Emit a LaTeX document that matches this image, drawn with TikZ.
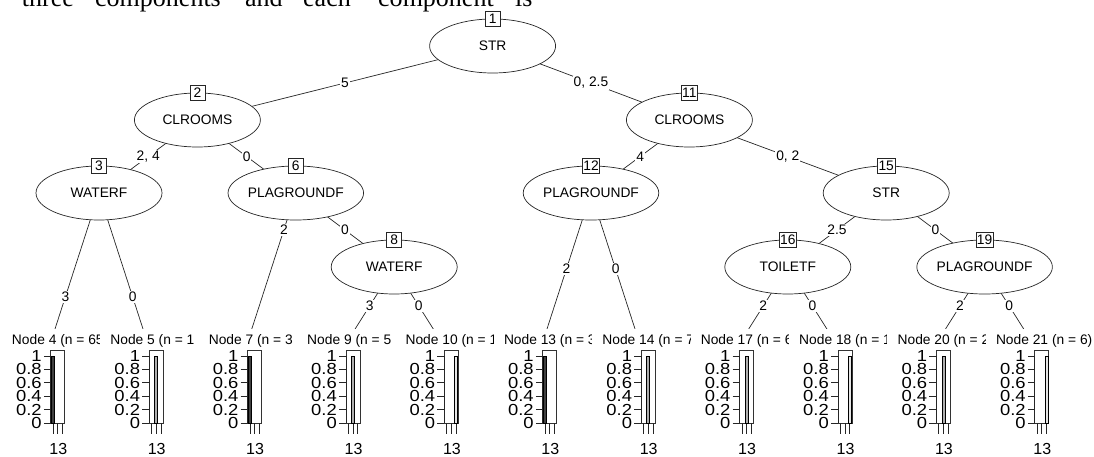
\documentclass[tikz,border=0pt]{standalone}
\usepackage{fontspec}
\setmainfont{Liberation Sans}
\newfontfamily\myserif{Liberation Serif}
\usetikzlibrary{shapes.geometric,backgrounds}
\newcommand\myfs{\fontsize{13.8}{16}\selectfont}
\newcommand\myft{\fontsize{16}{18}\selectfont}
\definecolor{barcA}{RGB}{64,64,64}
\definecolor{barcB}{RGB}{174,174,174}
\definecolor{barcC}{RGB}{230,230,230}
\tikzset{
 splitnode/.style={ellipse, draw=black!85, line width=0.7pt, fill=white, minimum width=126pt, minimum height=54pt, inner sep=0pt, font=\myfs},
 idbox/.style={draw=black!85, line width=0.7pt, fill=white, minimum height=15pt, minimum width=15pt, inner sep=1pt, font=\myfs},
 elab/.style={fill=white, inner sep=1pt, font=\myfs},
 edgeline/.style={line width=0.7pt, draw=black!85},
 ticklab/.style={anchor=east, inner sep=0pt, font=\myft},
 termlab/.style={anchor=base west, inner sep=0pt, font=\myfs},
 axisline/.style={line width=0.7pt, draw=black!85},
 panelframe/.style={line width=0.7pt, draw=black!80},
 topword/.style={anchor=base west, inner sep=0pt, font=\myserif\fontsize{26}{30}\selectfont},
}
\begin{document}
\begin{tikzpicture}[x=1pt,y=-1pt]
\useasboundingbox (0,0) rectangle (1094,457);
\clip (0,0) rectangle (1094,457);

% cut-off line of text above the figure
\node[topword] (w1) at (21.7,7) {three};
\node[topword] (w2) at (95,7) {components};
\node[topword] (w3) at (245,7) {and};
\node[topword] (w4) at (303,7) {each};
\node[topword] (w5) at (378,7) {component};
\node[topword] (w6) at (515,7) {is};

% inner nodes
\node[splitnode] (n1) at (492.6,46) {STR};
\node[splitnode] (n2) at (197.4,120) {CLROOMS};
\node[splitnode] (n11) at (689.4,120) {CLROOMS};
\node[splitnode] (n3) at (99,193) {WATERF};
\node[splitnode] (n6) at (295.8,193) {PLAGROUNDF};
\node[splitnode] (n12) at (591,193) {PLAGROUNDF};
\node[splitnode] (n15) at (886.2,193) {STR};
\node[splitnode] (n8) at (394.2,267) {WATERF};
\node[splitnode] (n16) at (787.8,267) {TOILETF};
\node[splitnode] (n19) at (984.6,267) {PLAGROUNDF};

\node[idbox] (b1) at (492.6,19) {1};
\node[idbox] (b2) at (197.4,93) {2};
\node[idbox] (b11) at (689.4,93) {11};
\node[idbox] (b3) at (99,166) {3};
\node[idbox] (b6) at (295.8,166) {6};
\node[idbox] (b12) at (591,166) {12};
\node[idbox] (b15) at (886.2,166) {15};
\node[idbox] (b8) at (394.2,240) {8};
\node[idbox] (b16) at (787.8,240) {16};
\node[idbox] (b19) at (984.6,240) {19};

% terminal attachment points
\coordinate (e4) at (49.8,345);
\coordinate (e5) at (148.2,345);
\coordinate (e7) at (246.6,345);
\coordinate (e9) at (345,345);
\coordinate (e10) at (443.4,345);
\coordinate (e13) at (541.8,345);
\coordinate (e14) at (640.2,345);
\coordinate (e17) at (738.6,345);
\coordinate (e18) at (837,345);
\coordinate (e20) at (935.4,345);
\coordinate (e21) at (1033.8,345);

\begin{pgfonlayer}{background}
\draw[edgeline] (n1.center) -- node[elab]{5} (n2.center);
\draw[edgeline] (n1.center) -- node[elab]{0, 2.5} (n11.center);
\draw[edgeline] (n2.center) -- node[elab]{2, 4} (n3.center);
\draw[edgeline] (n2.center) -- node[elab]{0} (n6.center);
\draw[edgeline] (n11.center) -- node[elab]{4} (n12.center);
\draw[edgeline] (n11.center) -- node[elab]{0, 2} (n15.center);
\draw[edgeline] (n6.center) -- node[elab]{0} (n8.center);
\draw[edgeline] (n15.center) -- node[elab]{2.5} (n16.center);
\draw[edgeline] (n15.center) -- node[elab]{0} (n19.center);
\draw[edgeline] (n3.center) -- node[elab,pos=0.684]{3} (e4);
\draw[edgeline] (n3.center) -- node[elab,pos=0.684]{0} (e5);
\draw[edgeline] (n6.center) -- node[elab,pos=0.243]{2} (e7);
\draw[edgeline] (n8.center) -- node[elab]{3} (e9);
\draw[edgeline] (n8.center) -- node[elab]{0} (e10);
\draw[edgeline] (n12.center) -- node[elab]{2} (e13);
\draw[edgeline] (n12.center) -- node[elab]{0} (e14);
\draw[edgeline] (n16.center) -- node[elab]{2} (e17);
\draw[edgeline] (n16.center) -- node[elab]{0} (e18);
\draw[edgeline] (n19.center) -- node[elab]{2} (e20);
\draw[edgeline] (n19.center) -- node[elab]{0} (e21);
\end{pgfonlayer}

% terminal labels (each one covers the overflow of the previous one)
\foreach \c/\t [count=\i] in {49.8/{Node 4 (n = 65},148.2/{Node 5 (n = 1},246.6/{Node 7 (n = 3},345/{Node 9 (n = 5},443.4/{Node 10 (n = 1},541.8/{Node 13 (n = 3},640.2/{Node 14 (n = 7},738.6/{Node 17 (n = 6},837/{Node 18 (n = 1},935.4/{Node 20 (n = 2},1033.8/{Node 21 (n = 6)}}{
  \fill[white] (\c-48,329) rectangle (\c+50.4,349);
  \node[termlab] (t\i) at (\c-38,344) {\t};
}

% bar-plot panels
\foreach \c/\k [count=\i] in {49.8/A,148.2/B,246.6/A,345/B,443.4/C,541.8/A,640.2/B,738.6/B,837/C,935.4/B,1033.8/C}{
  \draw[panelframe] (\c+1,350) rectangle (\c+15,423);
  \draw[axisline] (\c+1,356) -- (\c+1,423);
  \foreach \v [count=\j] in {0,0.2,0.4,0.6,0.8,1}{
    \draw[axisline] (\c-6,423-67*\v) -- (\c+1,423-67*\v);
    \node[ticklab] (yt\i-\j) at (\c-8,423-67*\v) {\scalebox{1.15}[1]{\v}};
  }
  \foreach \m in {1,2,3}{
    \draw[axisline] (\c+1+\m*14/3-7/3,423) -- (\c+1+\m*14/3-7/3,434);
  }
  \node[font=\myft, inner sep=0pt] (xl\i) at (\c+8.5,449) {13};
}
% bars
\foreach \c/\m/\k in {49.8/1/A,148.2/2/B,246.6/1/A,345/2/B,443.4/3/C,541.8/1/A,640.2/2/B,738.6/2/B,837/3/C,935.4/2/B,1033.8/3/C}{
  \filldraw[fill=barc\k, draw=black, line width=0.6pt] (\c+1+\m*14/3-14/3+0.8,356) rectangle (\c+1+\m*14/3-0.8,423);
}
\end{tikzpicture}
\end{document}
